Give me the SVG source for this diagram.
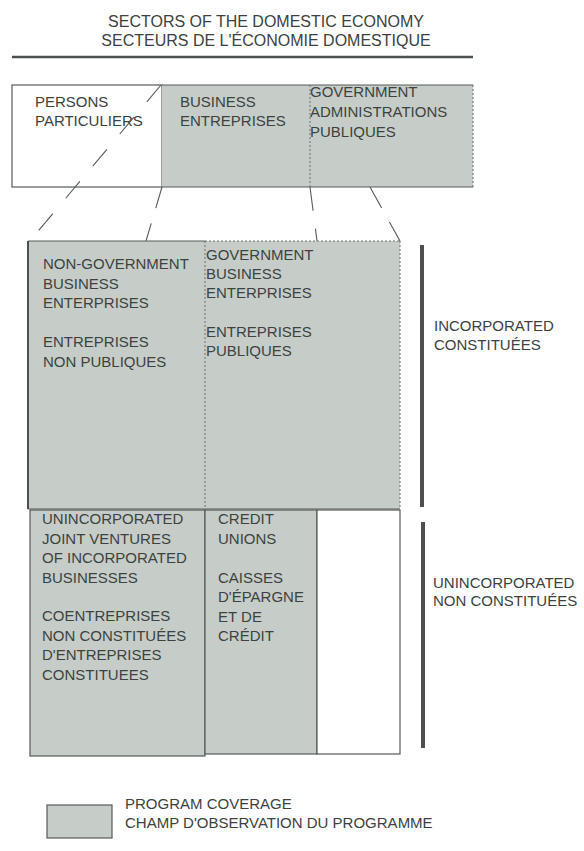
<svg xmlns="http://www.w3.org/2000/svg" width="584" height="851" viewBox="0 0 584 851">
<style>
text{font-family:"Liberation Sans",Arial,sans-serif;font-size:15px;fill:#3c423f}
.title{font-size:16px}
.g{fill:#c6cdc9}
.w{fill:#ffffff}
.b{stroke:#555c58;stroke-width:1.2;fill:none}
.dot{stroke:#6a716d;stroke-width:1;stroke-dasharray:2 2;fill:none}
.bar{fill:#4b524e}
.conn{stroke:#555c58;stroke-width:1.1;fill:none}
</style>
<rect width="584" height="851" fill="#ffffff"/>

<g id="title">
<text class="title" x="266" y="27" text-anchor="middle">SECTORS OF THE DOMESTIC ECONOMY</text>
<text class="title" x="266" y="46" text-anchor="middle">SECTEURS DE L'ÉCONOMIE DOMESTIQUE</text>
<line x1="12" y1="57" x2="473" y2="57" stroke="#4b524e" stroke-width="2.5"/>
</g>

<g id="persons">
<rect class="w" x="12" y="85" width="150" height="102"/>
<rect class="b" x="12" y="85" width="150" height="102"/>
<text x="35" y="107">PERSONS</text>
<text x="35" y="126">PARTICULIERS</text>
</g>

<g id="business">
<rect class="g" x="162" y="85" width="148" height="102"/>
<line class="b" x1="162" y1="85" x2="310" y2="85"/>
<line class="b" x1="162" y1="187" x2="310" y2="187"/>
<text x="180" y="107">BUSINESS</text>
<text x="180" y="126">ENTREPRISES</text>
</g>

<g id="government">
<rect class="g" x="310" y="85" width="163" height="102"/>
<line class="b" x1="310" y1="85" x2="473" y2="85"/>
<line class="b" x1="310" y1="187" x2="473" y2="187"/>
<line class="dot" x1="473" y1="85" x2="473" y2="187"/>
<line class="dot" x1="310" y1="85" x2="310" y2="187"/>
<text x="310" y="97">GOVERNMENT</text>
<text x="310" y="117">ADMINISTRATIONS</text>
<text x="310" y="137">PUBLIQUES</text>
</g>

<g id="connectors">
<line class="conn" x1="161" y1="85" x2="34" y2="236" stroke-dasharray="22 20"/>
<line class="conn" x1="162" y1="187" x2="146" y2="241" stroke-dasharray="22 16"/>
<line class="conn" x1="310" y1="187" x2="317" y2="241" stroke-dasharray="24 18"/>
<line class="conn" x1="370" y1="187" x2="400" y2="241" stroke-dasharray="24 16"/>
</g>

<g id="non-government-business">
<rect class="g" x="28" y="241" width="177" height="268"/>
<line x1="28" y1="241" x2="28" y2="509" stroke="#4b524e" stroke-width="2"/>
<line class="b" x1="28" y1="241" x2="205" y2="241"/>
<text x="43" y="269">NON-GOVERNMENT</text>
<text x="43" y="288.5">BUSINESS</text>
<text x="43" y="308">ENTERPRISES</text>
<text x="43" y="347">ENTREPRISES</text>
<text x="43" y="366.5">NON PUBLIQUES</text>
</g>

<g id="government-business">
<rect class="g" x="205" y="241" width="195" height="268"/>
<line class="dot" x1="205" y1="241" x2="400" y2="241"/>
<line class="dot" x1="205" y1="241" x2="205" y2="509"/>
<line class="dot" x1="400" y1="241" x2="400" y2="509"/>
<line class="b" x1="28" y1="509" x2="400" y2="509"/>
<text x="206" y="260">GOVERNMENT</text>
<text x="206" y="279">BUSINESS</text>
<text x="206" y="298">ENTERPRISES</text>
<text x="206" y="337">ENTREPRISES</text>
<text x="206" y="356">PUBLIQUES</text>
</g>

<g id="incorporated">
<rect class="bar" x="420" y="245" width="4" height="262"/>
<text x="434" y="331">INCORPORATED</text>
<text x="434" y="350">CONSTITUÉES</text>
</g>

<g id="joint-ventures">
<rect class="g" x="30" y="510" width="175" height="246"/>
<rect class="b" x="30" y="510" width="175" height="246"/>
<text x="42" y="524">UNINCORPORATED</text>
<text x="42" y="543.5">JOINT VENTURES</text>
<text x="42" y="563">OF INCORPORATED</text>
<text x="42" y="582.5">BUSINESSES</text>
<text x="42" y="621">COENTREPRISES</text>
<text x="42" y="640.5">NON CONSTITUÉES</text>
<text x="42" y="660">D'ENTREPRISES</text>
<text x="42" y="679.5">CONSTITUEES</text>
</g>

<g id="credit-unions">
<rect class="g" x="205" y="510" width="112" height="244"/>
<rect class="b" x="205" y="510" width="112" height="244"/>
<text x="218" y="524">CREDIT</text>
<text x="218" y="543.5">UNIONS</text>
<text x="218" y="582.5">CAISSES</text>
<text x="218" y="602">D'ÉPARGNE</text>
<text x="218" y="621.5">ET DE</text>
<text x="218" y="641">CRÉDIT</text>
</g>

<g id="other-unincorporated">
<rect class="w" x="317" y="510" width="83" height="244"/>
<rect class="b" x="317" y="510" width="83" height="244"/>
</g>

<g id="unincorporated">
<rect class="bar" x="421" y="522" width="4" height="226"/>
<text x="433" y="588">UNINCORPORATED</text>
<text x="433" y="606">NON CONSTITUÉES</text>
</g>

<g id="legend">
<rect class="g" x="47" y="805" width="65" height="33"/>
<rect class="b" x="47" y="805" width="65" height="33"/>
<text x="125" y="809">PROGRAM COVERAGE</text>
<text x="125" y="828">CHAMP D'OBSERVATION DU PROGRAMME</text>
</g>
</svg>
